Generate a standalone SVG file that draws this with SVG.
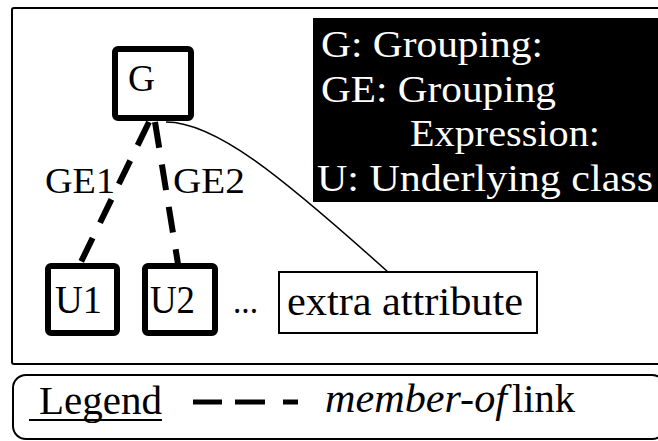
<svg xmlns="http://www.w3.org/2000/svg" width="658" height="441" viewBox="0 0 658 441">
  <style>
    text { font-family: 'Liberation Serif', 'DejaVu Serif', 'Times New Roman', Times, serif; fill: #000; }
    .w { fill: #fff; }
    .node { fill: #fff; stroke: #000; stroke-width: 6; }
    .member { fill: none; stroke: #000; stroke-width: 6; stroke-dasharray: 26 17; }
    .thin { fill: none; stroke: #000; stroke-width: 1.5; }
    .frame { fill: none; stroke: #000; stroke-width: 2; }
  </style>
  <rect width="658" height="441" fill="#fff"/>

  <!-- outer frame of the schema -->
  <rect class="frame" x="12" y="8" width="660" height="356" rx="2"/>

  <!-- abbreviation key -->
  <g id="key" font-family="Liberation Serif, serif">
    <rect x="313" y="18" width="350" height="184" fill="#000"/>
    <text class="w" x="321" y="57" font-size="38" textLength="222" lengthAdjust="spacingAndGlyphs">G: Grouping:</text>
    <text class="w" x="321" y="102" font-size="38" textLength="235" lengthAdjust="spacingAndGlyphs">GE: Grouping</text>
    <text class="w" x="410" y="146" font-size="38" textLength="190" lengthAdjust="spacingAndGlyphs">Expression:</text>
    <text class="w" x="317" y="191" font-size="38" textLength="336" lengthAdjust="spacingAndGlyphs">U: Underlying class</text>
  </g>

  <!-- connectors -->
  <g id="connectors">
    <line id="ge1" class="member" x1="149" y1="122" x2="80" y2="264"/>
    <line id="ge2" class="member" x1="155" y1="122" x2="178" y2="264"/>
    <path id="extra-link" class="thin" d="M166 122 C215 122 280 175 388 272"/>
    <text x="45" y="193" font-size="36" textLength="70" lengthAdjust="spacingAndGlyphs">GE1</text>
    <text x="173" y="193" font-size="36" textLength="72" lengthAdjust="spacingAndGlyphs">GE2</text>
  </g>

  <!-- grouping node -->
  <g id="node-G">
    <rect class="node" x="115" y="49" width="76" height="69" rx="3"/>
    <text x="128" y="91" font-size="38" textLength="27" lengthAdjust="spacingAndGlyphs">G</text>
  </g>

  <!-- underlying classes -->
  <g id="node-U1">
    <rect class="node" x="48" y="266" width="69" height="67" rx="3"/>
    <text x="55" y="313" font-size="40" textLength="47" lengthAdjust="spacingAndGlyphs">U1</text>
  </g>
  <g id="node-U2">
    <rect class="node" x="145" y="266" width="70" height="67" rx="3"/>
    <text x="150" y="313" font-size="40" textLength="45" lengthAdjust="spacingAndGlyphs">U2</text>
  </g>
  <text x="233" y="313" font-size="36" textLength="25" lengthAdjust="spacingAndGlyphs">...</text>

  <!-- extra attribute -->
  <g id="node-extra">
    <rect x="279" y="272" width="258" height="61" fill="#fff" stroke="#000" stroke-width="2"/>
    <text x="287" y="315" font-size="40" textLength="236" lengthAdjust="spacingAndGlyphs">extra attribute</text>
  </g>

  <!-- legend -->
  <g id="legend">
    <rect class="frame" x="13" y="375" width="652" height="64" rx="13"/>
    <text x="39" y="414" font-size="40" textLength="123" lengthAdjust="spacingAndGlyphs">Legend</text>
    <line x1="29" y1="420" x2="162" y2="420" stroke="#000" stroke-width="2"/>
    <g stroke="#000" stroke-width="5">
      <line x1="193" y1="402" x2="222" y2="402"/>
      <line x1="235" y1="402" x2="265" y2="402"/>
      <line x1="283" y1="402" x2="298" y2="402"/>
    </g>
    <text x="325" y="412" font-size="40" font-style="italic" textLength="182" lengthAdjust="spacingAndGlyphs">member-of</text>
    <text x="512" y="412" font-size="40" textLength="63" lengthAdjust="spacingAndGlyphs">link</text>
  </g>
</svg>
